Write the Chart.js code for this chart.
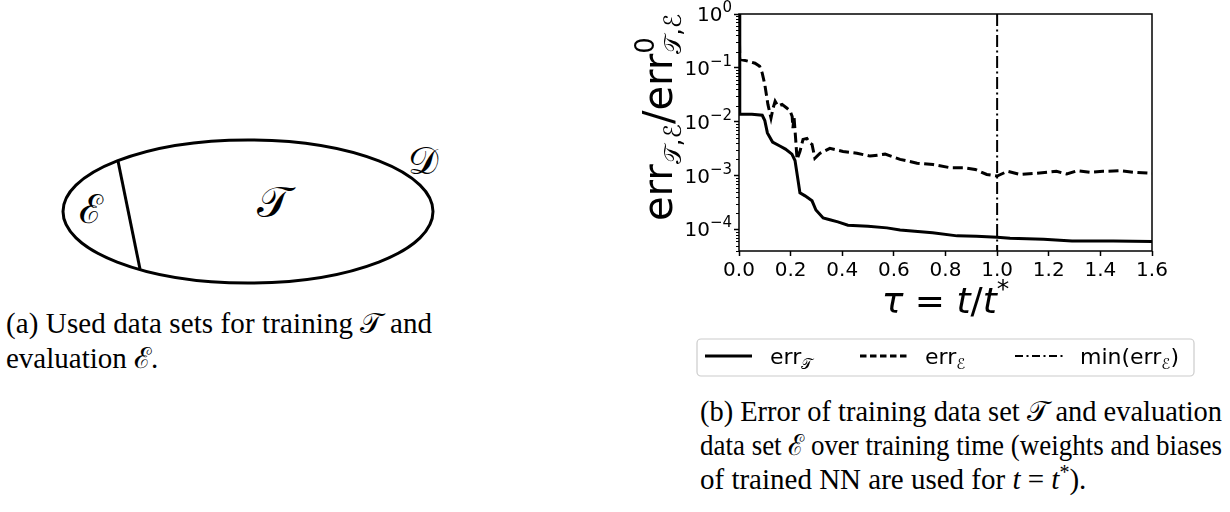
<!DOCTYPE html>
<html>
<head>
<meta charset="utf-8">
<script src="https://cdn.jsdelivr.net/npm/chart.js@4.4.0/dist/chart.umd.min.js"></script>
<style>
  body { margin: 0; width: 1230px; height: 512px; background: #fff; position: relative; overflow: hidden; }
  #page { position: absolute; left: 0; top: 0; }
  #chartBox { position: absolute; left: 600px; top: 0; width: 630px; height: 390px; }
  .cap { font-family: "Liberation Serif", "DejaVu Serif", serif; font-size: 29px; fill: #000; }
  .cal { font-family: "Liberation Serif", "DejaVu Serif", serif; fill: #000; }
</style>
</head>
<body>
<svg id="page" width="1230" height="512">
  <!-- (a) data set sketch -->
  <ellipse cx="248" cy="211.5" rx="185" ry="71.5" fill="none" stroke="#000" stroke-width="3"/>
  <line x1="118" y1="161" x2="140" y2="269" stroke="#000" stroke-width="3"/>
  <text x="91" y="223" class="cal" font-size="40" text-anchor="middle">ℰ</text>
  <text x="274" y="217" class="cal" font-size="44" text-anchor="middle">𝒯</text>
  <text x="423" y="174" class="cal" font-size="38" text-anchor="middle">𝒟</text>
  <text class="cap" x="6" y="333" textLength="426" lengthAdjust="spacing">(a) Used data sets for training 𝒯 and</text>
  <text class="cap" x="6" y="368">evaluation ℰ.</text>
  <text class="cap" x="700" y="421" textLength="522" lengthAdjust="spacingAndGlyphs">(b) Error of training data set 𝒯 and evaluation</text>
  <text class="cap" x="700" y="455" textLength="522" lengthAdjust="spacingAndGlyphs">data set ℰ over training time (weights and biases</text>
  <text class="cap" x="700" y="489">of trained NN are used for <tspan font-style="italic">t</tspan> = <tspan font-style="italic">t</tspan><tspan dy="-10" font-size="20">*</tspan><tspan dy="10">).</tspan></text>
</svg>
<div id="chartBox"><canvas id="c" width="630" height="390"></canvas></div>
<script>
// training error (solid)
const tauTrain = [0, 0.003, 0.05, 0.09, 0.1, 0.11, 0.13, 0.16, 0.18, 0.205, 0.217, 0.229, 0.236, 0.256, 0.283, 0.298, 0.326, 0.352, 0.383, 0.422, 0.5, 0.573, 0.624, 0.75, 0.845, 0.92, 1.0, 1.05, 1.18, 1.29, 1.45, 1.6];
const errTrain = [1, 0.0138, 0.0138, 0.0132, 0.0105, 0.0062, 0.0042, 0.0035, 0.0031, 0.0025, 0.0019, 0.0008, 0.00048, 0.00042, 0.00034, 0.00023, 0.000163, 0.000151, 0.000138, 0.00012, 0.000115, 0.000107, 0.0000977, 0.000087, 0.000076, 0.000075, 0.000072, 0.000069, 0.000066, 0.000061, 0.000061, 0.00006];
// evaluation error (dashed)
const tauEval = [0, 0.003, 0.03, 0.062, 0.08, 0.09, 0.1, 0.112, 0.124, 0.132, 0.14, 0.151, 0.167, 0.186, 0.198, 0.206, 0.209, 0.213, 0.22, 0.225, 0.236, 0.248, 0.263, 0.275, 0.283, 0.294, 0.314, 0.352, 0.403, 0.457, 0.508, 0.566, 0.624, 0.69, 0.752, 0.818, 0.868, 0.915, 0.96, 1.0, 1.04, 1.09, 1.15, 1.23, 1.27, 1.31, 1.36, 1.41, 1.475, 1.53, 1.6];
const errEval = [1, 0.144, 0.135, 0.122, 0.107, 0.08, 0.049, 0.021, 0.0117, 0.0178, 0.024, 0.0195, 0.021, 0.0178, 0.0158, 0.0125, 0.0076, 0.0125, 0.0044, 0.002, 0.0028, 0.0047, 0.0049, 0.004, 0.0038, 0.0021, 0.0026, 0.0032, 0.0028, 0.0026, 0.0023, 0.0025, 0.002, 0.0017, 0.0016, 0.0014, 0.0014, 0.0013, 0.00105, 0.00098, 0.0012, 0.00105, 0.0011, 0.0012, 0.00107, 0.00123, 0.00115, 0.0012, 0.00123, 0.00115, 0.0011];
// min of evaluation error at t = t*
const tauMin = [1.0, 1.0];
const errMinLine = [1, 3.98e-5];

const xTicks = [0, 0.2, 0.4, 0.6, 0.8, 1.0, 1.2, 1.4, 1.6];
const yTicks = [1e-4, 1e-3, 1e-2, 1e-1, 1];
const yTickExp = ['−4', '−3', '−2', '−1', '0'];
const yMin = 3.98e-5, yMax = 1;

const SANS = '"DejaVu Sans", sans-serif';
const solidDash = [], evalDash = [10, 4.5], minDash = [12, 3.5, 2, 3.5];

function pts(xs, ys) { return xs.map((x, i) => ({x: x, y: ys[i]})); }

// text pieces with sub/superscripts, drawn along the current x direction
function richWidth(ctx, parts) {
    let x = 0, lastStart = 0, lastW = 0;
    parts.forEach(p => {
        ctx.font = (p.italic ? 'italic ' : '') + p.size + 'px ' + SANS;
        let w = ctx.measureText(p.t).width;
        let start = p.stack ? lastStart : x;
        if (p.stack) x = start + Math.max(lastW, w); else { lastStart = start; lastW = w; x = start + w; }
    });
    return x;
}

function richText(ctx, parts, x0, y0) {
    let x = x0, lastStart = x0, lastW = 0;
    parts.forEach(p => {
        ctx.font = (p.italic ? 'italic ' : '') + p.size + 'px ' + SANS;
        let w = ctx.measureText(p.t).width;
        let start = p.stack ? lastStart : x;
        ctx.fillText(p.t, start, y0 + (p.dy || 0));
        if (p.stack) x = start + Math.max(lastW, w); else { lastStart = start; lastW = w; x = start + w; }
    });
}

const extras = {
    id: 'extras',
    afterDraw(chart) {
        const ctx = chart.ctx;
        const a = chart.chartArea;
        const ys = chart.scales.y;
        ctx.save();
        ctx.textAlign = 'left';
        ctx.textBaseline = 'alphabetic';
        ctx.fillStyle = '#000';
        ctx.strokeStyle = '#000';

        // minor log ticks
        ctx.lineWidth = 1;
        for (let k = -5; k <= 0; k++) {
            for (let m = 2; m <= 9; m++) {
                let v = m * Math.pow(10, k);
                if (v < yMin || v > yMax) continue;
                let py = Math.round(ys.getPixelForValue(v)) + 0.5;
                ctx.beginPath();
                ctx.moveTo(a.left, py);
                ctx.lineTo(a.left - 3, py);
                ctx.stroke();
            }
        }
        // y tick labels 10^k
        yTicks.forEach((v, i) => {
            let parts = [{t: '10', size: 20}, {t: yTickExp[i], size: 15, dy: -9}];
            let w = richWidth(ctx, parts);
            richText(ctx, parts, a.left - 7 - w, ys.getPixelForValue(v) + 7);
        });
        // frame
        ctx.lineWidth = 1.5;
        ctx.strokeRect(a.left, a.top, a.right - a.left, a.bottom - a.top);

        // axis titles
        const xt = [
            {t: 'τ', size: 36, italic: true},
            {t: ' = ', size: 36},
            {t: 't', size: 36, italic: true},
            {t: '/', size: 36},
            {t: 't', size: 36, italic: true},
            {t: '*', size: 25, dy: -16}
        ];
        let wx = richWidth(ctx, xt);
        richText(ctx, xt, (a.left + a.right) / 2 - wx / 2, 313);

        const yt = [
            {t: 'err', size: 40},
            {t: '𝒯,ℰ', size: 24, dy: 9},
            {t: '/err', size: 40},
            {t: '0', size: 26, dy: -18},
            {t: '𝒯,ℰ', size: 24, dy: 9, stack: true}
        ];
        ctx.save();
        ctx.translate(72, 221);
        ctx.rotate(-Math.PI / 2);
        richText(ctx, yt, 0, 0);
        ctx.restore();

        // legend
        const bx = 97, by = 339, bw = 497, bh = 37;
        ctx.fillStyle = 'rgba(255,255,255,0.8)';
        ctx.strokeStyle = '#cccccc';
        ctx.lineWidth = 1.2;
        ctx.beginPath();
        ctx.roundRect(bx, by, bw, bh, 4);
        ctx.fill();
        ctx.stroke();
        const items = [
            {x0: 105, x1: 152, dash: solidDash, lw: 3, tx: 170, text: [{t: 'err', size: 22}, {t: '𝒯', size: 15, dy: 5}]},
            {x0: 260, x1: 307, dash: [6.5, 3.5], lw: 3, tx: 325, text: [{t: 'err', size: 22}, {t: 'ℰ', size: 15, dy: 5}]},
            {x0: 415, x1: 466, dash: [8, 3.5, 2, 3.5], lw: 2, tx: 480, text: [{t: 'min(err', size: 22}, {t: 'ℰ', size: 15, dy: 5}, {t: ')', size: 22}]}
        ];
        items.forEach(it => {
            ctx.strokeStyle = '#000';
            ctx.lineWidth = it.lw;
            ctx.setLineDash(it.dash);
            ctx.beginPath();
            ctx.moveTo(it.x0, 356);
            ctx.lineTo(it.x1, 356);
            ctx.stroke();
            ctx.setLineDash([]);
            ctx.fillStyle = '#000';
            richText(ctx, it.text, it.tx, 364);
        });
        ctx.restore();
    }
};

new Chart(document.getElementById('c').getContext('2d'), {
    type: 'line',
    data: {
        datasets: [
            {label: 'err_T', data: pts(tauTrain, errTrain), borderColor: '#000', borderWidth: 3, borderDash: solidDash},
            {label: 'err_E', data: pts(tauEval, errEval), borderColor: '#000', borderWidth: 3, borderDash: evalDash},
            {label: 'min(err_E)', data: pts(tauMin, errMinLine), borderColor: '#000', borderWidth: 2, borderDash: minDash}
        ]
    },
    options: {
        responsive: false,
        animation: false,
        elements: {point: {radius: 0}, line: {tension: 0, fill: false}},
        layout: {padding: {top: 12, right: 78, left: 0, bottom: 0}},
        plugins: {legend: {display: false}, tooltip: {enabled: false}},
        scales: {
            x: {
                type: 'linear', min: 0, max: 1.6,
                afterBuildTicks: axis => { axis.ticks = xTicks.map(v => ({value: v})); },
                afterFit: s => { s.height = 139; },
                grid: {drawOnChartArea: false, drawTicks: true, tickLength: 5, tickWidth: 1.5, tickColor: '#000'},
                border: {display: false},
                ticks: {
                    autoSkip: false, maxRotation: 0, padding: 3, color: '#000',
                    font: {family: SANS, size: 20},
                    callback: v => Number(v).toFixed(1)
                }
            },
            y: {
                type: 'logarithmic', min: yMin, max: yMax,
                afterBuildTicks: axis => { axis.ticks = yTicks.map(v => ({value: v})); },
                afterFit: s => { s.width = 139; },
                grid: {drawOnChartArea: false, drawTicks: true, tickLength: 5, tickWidth: 1.5, tickColor: '#000'},
                border: {display: false},
                ticks: {autoSkip: false, padding: 2, font: {family: SANS, size: 20}, callback: () => ''}
            }
        }
    },
    plugins: [extras]
});
</script>
</body>
</html>
